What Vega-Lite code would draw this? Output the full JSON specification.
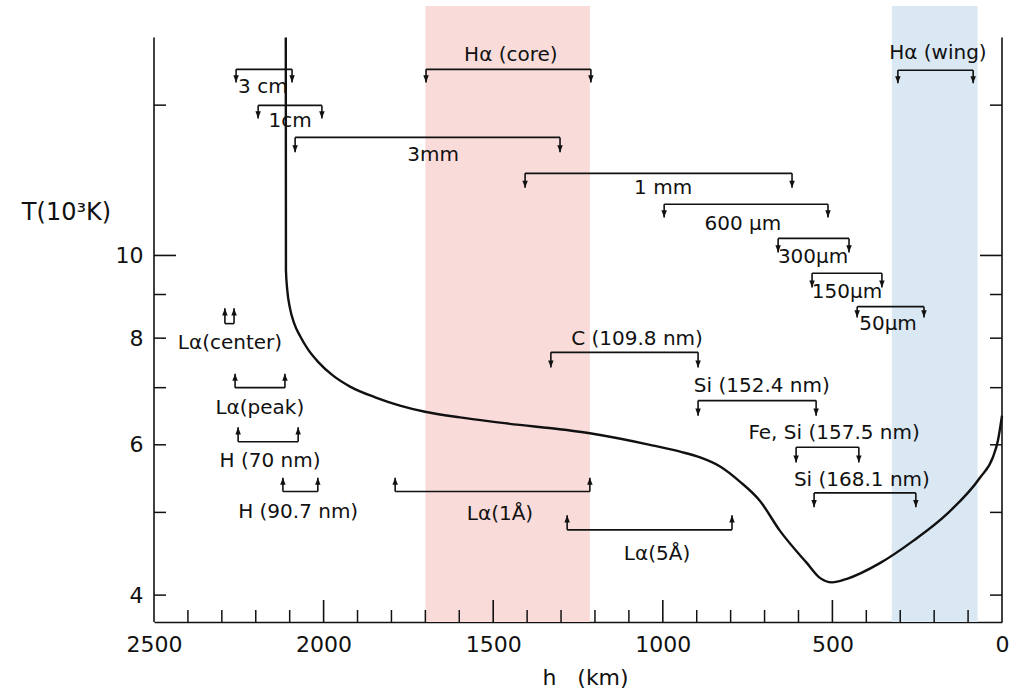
{
  "$schema": "https://vega.github.io/schema/vega-lite/v6.json",
  "width": 848,
  "height": 616,
  "autosize": {"type": "none"},
  "padding": {"left": 154, "top": 6, "right": 12, "bottom": 72},
  "background": "white",
  "config": {
    "view": {"stroke": null},
    "font": "DejaVu Sans",
    "axis": {"grid": false}
  },
  "datasets": {
    "bands": [
      {"band": "Hα core", "h1": 1700, "h2": 1215},
      {"band": "Hα wing", "h1": 325, "h2": 72}
    ],
    "frame": [{"h": 2500}, {"h": 0}],
    "xticks": [
      {"h": 2400, "major": false}, {"h": 2300, "major": false}, {"h": 2200, "major": false}, {"h": 2100, "major": false},
      {"h": 2000, "major": true},
      {"h": 1900, "major": false}, {"h": 1800, "major": false}, {"h": 1700, "major": false}, {"h": 1600, "major": false},
      {"h": 1500, "major": true},
      {"h": 1400, "major": false}, {"h": 1300, "major": false}, {"h": 1200, "major": false}, {"h": 1100, "major": false},
      {"h": 1000, "major": true},
      {"h": 900, "major": false}, {"h": 800, "major": false}, {"h": 700, "major": false}, {"h": 600, "major": false},
      {"h": 500, "major": true},
      {"h": 400, "major": false}, {"h": 300, "major": false}, {"h": 200, "major": false}, {"h": 100, "major": false}
    ],
    "yticks": [
      {"T": 4, "major": false}, {"T": 5, "major": false}, {"T": 6, "major": false}, {"T": 7, "major": false},
      {"T": 8, "major": false}, {"T": 9, "major": false}, {"T": 10, "major": true}, {"T": 15, "major": false}
    ],
    "temperature": [
      {"h": 2111.5, "T": 18.0},
      {"h": 2111, "T": 9.60},
      {"h": 2107, "T": 9.10},
      {"h": 2099, "T": 8.67},
      {"h": 2087, "T": 8.33},
      {"h": 2069, "T": 8.04},
      {"h": 2046, "T": 7.76},
      {"h": 2017, "T": 7.51},
      {"h": 1972, "T": 7.23},
      {"h": 1922, "T": 7.02},
      {"h": 1848, "T": 6.82},
      {"h": 1775, "T": 6.67},
      {"h": 1701, "T": 6.56},
      {"h": 1598, "T": 6.46},
      {"h": 1480, "T": 6.37},
      {"h": 1215, "T": 6.19},
      {"h": 1038, "T": 6.00},
      {"h": 949, "T": 5.89},
      {"h": 890, "T": 5.80},
      {"h": 831, "T": 5.66},
      {"h": 772, "T": 5.43},
      {"h": 714, "T": 5.16},
      {"h": 655, "T": 4.76},
      {"h": 575, "T": 4.36},
      {"h": 537, "T": 4.19},
      {"h": 501, "T": 4.14},
      {"h": 457, "T": 4.18},
      {"h": 360, "T": 4.36},
      {"h": 262, "T": 4.63},
      {"h": 162, "T": 4.98},
      {"h": 65, "T": 5.49},
      {"h": 27, "T": 5.80},
      {"h": 12, "T": 6.07},
      {"h": 0, "T": 6.49}
    ],
    "brackets": [
      {"label": "3 cm", "h1": 2258, "h2": 2093, "T": 16.52, "Tend": 15.95, "dir": "down", "lh": 2179, "lT": 15.74},
      {"label": "1cm", "h1": 2193, "h2": 2005, "T": 14.99, "Tend": 14.47, "dir": "down", "lh": 2099, "lT": 14.36},
      {"label": "3mm", "h1": 2084, "h2": 1303, "T": 13.75, "Tend": 13.21, "dir": "down", "lh": 1677, "lT": 13.10},
      {"label": "Hα (core)", "h1": 1698, "h2": 1212, "T": 16.52, "Tend": 15.95, "dir": "down", "lh": 1448, "lT": 17.16},
      {"label": "1 mm", "h1": 1406, "h2": 619, "T": 12.48, "Tend": 12.0, "dir": "down", "lh": 999, "lT": 11.98},
      {"label": "600 μm", "h1": 996, "h2": 513, "T": 11.48, "Tend": 11.08, "dir": "down", "lh": 764, "lT": 10.90},
      {"label": "300μm", "h1": 660, "h2": 451, "T": 10.47, "Tend": 10.08, "dir": "down", "lh": 557, "lT": 9.95},
      {"label": "150μm", "h1": 560, "h2": 354, "T": 9.53, "Tend": 9.17, "dir": "down", "lh": 457, "lT": 9.05},
      {"label": "50μm", "h1": 427, "h2": 230, "T": 8.71, "Tend": 8.46, "dir": "down", "lh": 336, "lT": 8.32},
      {"label": "Hα (wing)", "h1": 307, "h2": 85, "T": 16.48, "Tend": 15.91, "dir": "down", "lh": 189, "lT": 17.25},
      {"label": "Lα(center)", "h1": 2291, "h2": 2264, "T": 8.32, "Tend": 8.67, "dir": "up", "lh": 2276, "lT": 7.89},
      {"label": "Lα(peak)", "h1": 2261, "h2": 2114, "T": 7.00, "Tend": 7.27, "dir": "up", "lh": 2188, "lT": 6.62},
      {"label": "H (70 nm)", "h1": 2252, "h2": 2075, "T": 6.05, "Tend": 6.29, "dir": "up", "lh": 2158, "lT": 5.75},
      {"label": "H (90.7 nm)", "h1": 2120, "h2": 2017, "T": 5.29, "Tend": 5.49, "dir": "up", "lh": 2075, "lT": 5.00},
      {"label": "Lα(1Å)", "h1": 1789, "h2": 1215, "T": 5.29, "Tend": 5.49, "dir": "up", "lh": 1480, "lT": 4.98},
      {"label": "Lα(5Å)", "h1": 1282, "h2": 796, "T": 4.77, "Tend": 4.96, "dir": "up", "lh": 1017, "lT": 4.47},
      {"label": "C (109.8 nm)", "h1": 1330, "h2": 896, "T": 7.70, "Tend": 7.39, "dir": "down", "lh": 1076, "lT": 7.99},
      {"label": "Si (152.4 nm)", "h1": 896, "h2": 548, "T": 6.76, "Tend": 6.49, "dir": "down", "lh": 708, "lT": 7.04},
      {"label": "Fe, Si (157.5 nm)", "h1": 607, "h2": 422, "T": 5.96, "Tend": 5.72, "dir": "down", "lh": 495, "lT": 6.20},
      {"label": "Si (168.1 nm)", "h1": 554, "h2": 254, "T": 5.27, "Tend": 5.07, "dir": "down", "lh": 413, "lT": 5.45}
    ]
  },
  "layer": [
    {
      "data": {"name": "bands"},
      "mark": {"type": "rect", "opacity": 1},
      "encoding": {
        "x": {
          "field": "h1", "type": "quantitative",
          "scale": {"domain": [2500, 0], "nice": false, "zero": false},
          "axis": {
            "values": [2500, 2000, 1500, 1000, 500, 0],
            "format": "d",
            "labels": true,
            "ticks": false,
            "domain": true,
            "domainColor": "#111111",
            "domainWidth": 1.6,
            "labelFont": "DejaVu Sans",
            "labelFontSize": 22,
            "labelColor": "#111111",
            "labelPadding": 12,
            "labelFlush": false,
            "labelOverlap": false,
            "title": "h\u00a0\u00a0\u00a0(km)",
            "titleFont": "DejaVu Sans",
            "titleFontSize": 22,
            "titleFontWeight": "normal",
            "titleColor": "#111111",
            "titleX": 431,
            "titleY": 55,
            "titleAlign": "center",
            "titleBaseline": "middle"
          }
        },
        "x2": {"field": "h2"},
        "y": {
          "datum": 3.72, "type": "quantitative",
          "scale": {"type": "log", "domain": [3.72, 19.6], "nice": false},
          "axis": {
            "values": [4, 6, 8, 10],
            "labels": true,
            "ticks": false,
            "domain": false,
            "labelFont": "DejaVu Sans",
            "labelFontSize": 22,
            "labelColor": "#111111",
            "labelPadding": 11,
            "labelFlush": false,
            "labelOverlap": false,
            "title": "T(10³K)",
            "titleFont": "DejaVu Sans",
            "titleFontSize": 24,
            "titleFontWeight": "normal",
            "titleColor": "#111111",
            "titleAngle": 0,
            "titleX": -88,
            "titleY": 206,
            "titleAlign": "center",
            "titleBaseline": "middle"
          }
        },
        "y2": {"datum": 19.6},
        "color": {
          "field": "band", "type": "nominal",
          "scale": {"domain": ["Hα core", "Hα wing"], "range": ["#f9dcda", "#d9e8f3"]},
          "legend": null
        }
      }
    },
    {
      "data": {"name": "frame"},
      "mark": {"type": "rule", "color": "#111111", "strokeWidth": 1.6},
      "encoding": {
        "x": {"field": "h", "type": "quantitative"},
        "y": {"datum": 3.72, "type": "quantitative"},
        "y2": {"datum": 18.0}
      }
    },
    {
      "data": {"name": "xticks"},
      "transform": [{"filter": "!datum.major"}],
      "mark": {"type": "point", "shape": "M0,0V-1", "size": 576, "filled": false, "stroke": "#111111", "strokeWidth": 1.5, "opacity": 1},
      "encoding": {
        "x": {"field": "h", "type": "quantitative"},
        "y": {"datum": 3.72, "type": "quantitative"}
      }
    },
    {
      "data": {"name": "xticks"},
      "transform": [{"filter": "datum.major"}],
      "mark": {"type": "point", "shape": "M0,0V-1", "size": 1936, "filled": false, "stroke": "#111111", "strokeWidth": 1.6, "opacity": 1},
      "encoding": {
        "x": {"field": "h", "type": "quantitative"},
        "y": {"datum": 3.72, "type": "quantitative"}
      }
    },
    {
      "data": {"name": "yticks"},
      "transform": [{"filter": "!datum.major"}],
      "mark": {"type": "point", "shape": "M0,0H1", "size": 576, "filled": false, "stroke": "#111111", "strokeWidth": 1.5, "opacity": 1},
      "encoding": {
        "x": {"datum": 2500, "type": "quantitative"},
        "y": {"field": "T", "type": "quantitative"}
      }
    },
    {
      "data": {"name": "yticks"},
      "transform": [{"filter": "datum.major"}],
      "mark": {"type": "point", "shape": "M0,0H1", "size": 1936, "filled": false, "stroke": "#111111", "strokeWidth": 1.6, "opacity": 1},
      "encoding": {
        "x": {"datum": 2500, "type": "quantitative"},
        "y": {"field": "T", "type": "quantitative"}
      }
    },
    {
      "data": {"name": "yticks"},
      "transform": [{"filter": "!datum.major"}],
      "mark": {"type": "point", "shape": "M0,0H-1", "size": 576, "filled": false, "stroke": "#111111", "strokeWidth": 1.5, "opacity": 1},
      "encoding": {
        "x": {"datum": 0, "type": "quantitative"},
        "y": {"field": "T", "type": "quantitative"}
      }
    },
    {
      "data": {"name": "yticks"},
      "transform": [{"filter": "datum.major"}],
      "mark": {"type": "point", "shape": "M0,0H-1", "size": 1936, "filled": false, "stroke": "#111111", "strokeWidth": 1.6, "opacity": 1},
      "encoding": {
        "x": {"datum": 0, "type": "quantitative"},
        "y": {"field": "T", "type": "quantitative"}
      }
    },
    {
      "data": {"name": "temperature"},
      "mark": {"type": "line", "color": "#111111", "strokeWidth": 2.4, "interpolate": "monotone"},
      "encoding": {
        "x": {"field": "h", "type": "quantitative"},
        "y": {"field": "T", "type": "quantitative"}
      }
    },
    {
      "data": {"name": "brackets"},
      "mark": {"type": "rule", "color": "#111111", "strokeWidth": 1.6},
      "encoding": {
        "x": {"field": "h1", "type": "quantitative"},
        "x2": {"field": "h2"},
        "y": {"field": "T", "type": "quantitative"}
      }
    },
    {
      "data": {"name": "brackets"},
      "transform": [{"fold": ["h1", "h2"], "as": ["end", "hEnd"]}],
      "mark": {"type": "rule", "color": "#111111", "strokeWidth": 1.6},
      "encoding": {
        "x": {"field": "hEnd", "type": "quantitative"},
        "y": {"field": "T", "type": "quantitative"},
        "y2": {"field": "Tend"}
      }
    },
    {
      "data": {"name": "brackets"},
      "transform": [{"fold": ["h1", "h2"], "as": ["end", "hEnd"]}],
      "mark": {"type": "point", "filled": true, "size": 120, "color": "#111111", "opacity": 1},
      "encoding": {
        "x": {"field": "hEnd", "type": "quantitative"},
        "y": {"field": "Tend", "type": "quantitative"},
        "shape": {
          "field": "dir", "type": "nominal",
          "scale": {"domain": ["down", "up"], "range": ["M0,0L-0.5,-1.3L0.5,-1.3Z", "M0,0L-0.5,1.3L0.5,1.3Z"]},
          "legend": null
        }
      }
    },
    {
      "data": {"name": "brackets"},
      "mark": {"type": "text", "font": "DejaVu Sans", "fontSize": 20, "color": "#111111", "align": "center", "baseline": "middle"},
      "encoding": {
        "x": {"field": "lh", "type": "quantitative"},
        "y": {"field": "lT", "type": "quantitative"},
        "text": {"field": "label"}
      }
    }
  ]
}
